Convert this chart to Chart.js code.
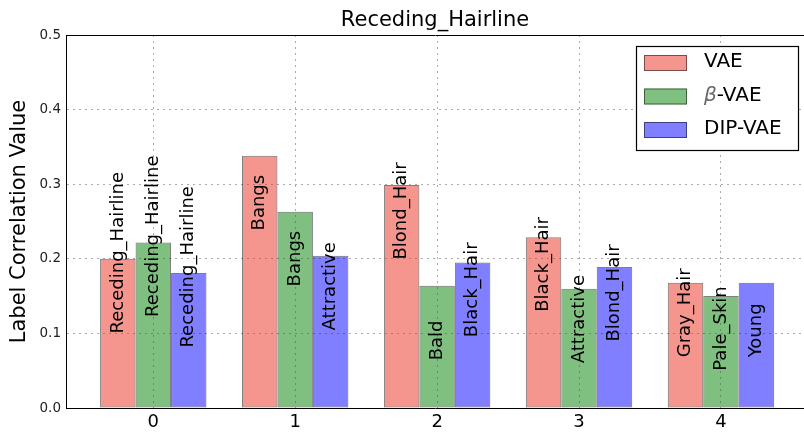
<!DOCTYPE html>
<html lang="en">
<head>
    <meta charset="UTF-8">
    <title>Receding_Hairline</title>
    <script src="https://cdn.jsdelivr.net/npm/chart.js@4.4.0/dist/chart.umd.min.js"></script>
    <style>
        html, body {
            margin: 0;
            padding: 0;
            background: #fff;
        }
        canvas {
            display: block;
        }
    </style>
</head>
<body>
    <canvas id="chart" width="804" height="435"></canvas>

    <script>
        // Attribute index groups along the x axis
        const categories = ['0', '1', '2', '3', '4'];
        const seriesNames = ['VAE', 'β-VAE', 'DIP-VAE'];

        // Correlation values per model
        const vaeValues = [0.200, 0.338, 0.299, 0.229, 0.168];
        const betaVaeValues = [0.222, 0.263, 0.164, 0.160, 0.150];
        const dipVaeValues = [0.181, 0.204, 0.195, 0.189, 0.168];

        // Attribute names written on each bar
        const vaeNames = ['Receding_Hairline', 'Bangs', 'Blond_Hair', 'Black_Hair', 'Gray_Hair'];
        const betaVaeNames = ['Receding_Hairline', 'Bangs', 'Bald', 'Attractive', 'Pale_Skin'];
        const dipVaeNames = ['Receding_Hairline', 'Attractive', 'Black_Hair', 'Blond_Hair', 'Young'];

        const yTicks = [0.0, 0.1, 0.2, 0.3, 0.4, 0.5];

        const FONT = '"DejaVu Sans", "Liberation Sans", sans-serif';
        const labelDrop = 0.1;   // names start this far below the bar top
        const gridColor = '#ababab';

        const toPoints = values => values.map((v, i) => ({ x: i, y: v }));

        // Rotated attribute names on the bars
        const barNamesPlugin = {
            id: 'barNames',
            afterDatasetsDraw(chart) {
                const ctx = chart.ctx;
                const yScale = chart.scales.y;
                const size = 18;
                ctx.save();
                ctx.font = size + 'px ' + FONT;
                ctx.fillStyle = '#000';
                ctx.textAlign = 'left';
                ctx.textBaseline = 'alphabetic';
                chart.data.datasets.forEach((ds, di) => {
                    const meta = chart.getDatasetMeta(di);
                    meta.data.forEach((bar, i) => {
                        const y = yScale.getPixelForValue(ds.data[i].y - labelDrop);
                        ctx.save();
                        ctx.translate(bar.x + 0.262 * size, y);
                        ctx.rotate(-Math.PI / 2);
                        ctx.fillText(ds.barNames[i], 0, 0);
                        ctx.restore();
                    });
                });
                ctx.restore();
            }
        };

        // Boxed legend in the upper right corner of the plot
        const boxLegendPlugin = {
            id: 'boxLegend',
            afterDraw(chart) {
                const { ctx, chartArea } = chart;
                const w = 163, h = 105;
                const left = chartArea.right - 5 - w;
                const top = chartArea.top + 11;
                ctx.save();
                ctx.fillStyle = '#fff';
                ctx.fillRect(left, top, w, h);
                ctx.strokeStyle = '#000';
                ctx.lineWidth = 1.2;
                ctx.strokeRect(left + 0.5, top + 0.5, w - 1, h - 1);

                chart.data.datasets.forEach((ds, i) => {
                    const cy = top + 17 + i * 33.5;
                    ctx.fillStyle = ds.backgroundColor;
                    ctx.fillRect(left + 8, cy - 8, 43, 16);
                    ctx.strokeStyle = ds.borderColor;
                    ctx.lineWidth = 1;
                    ctx.strokeRect(left + 8.5, cy - 7.5, 42, 15);

                    let x = left + 68;
                    let text = ds.label;
                    ctx.textAlign = 'left';
                    ctx.textBaseline = 'middle';
                    if (text.startsWith('β')) {
                        ctx.font = 'italic 20px ' + FONT;
                        ctx.fillStyle = '#666';
                        ctx.fillText('β', x, cy - 1);
                        x += ctx.measureText('β').width;
                        text = text.slice(1);
                    }
                    ctx.font = '20px ' + FONT;
                    ctx.fillStyle = '#000';
                    ctx.fillText(text, x, cy - 1);
                });
                ctx.restore();
            }
        };

        const barStyle = {
            borderColor: 'rgba(0, 0, 0, 0.5)',
            borderWidth: 1,
            borderSkipped: false,
            categoryPercentage: 0.75,
            barPercentage: 1.0,
            xAxisID: 'x',
            yAxisID: 'y'
        };

        // x range of the plot frame, in group units
        const xMin = -0.615;
        const xMax = 4.585;

        new Chart(document.getElementById('chart'), {
            type: 'bar',
            data: {
                datasets: [
                    Object.assign({
                        label: seriesNames[0],
                        data: toPoints(vaeValues),
                        barNames: vaeNames,
                        backgroundColor: 'rgba(235, 45, 30, 0.5)'
                    }, barStyle),
                    Object.assign({
                        label: seriesNames[1],
                        data: toPoints(betaVaeValues),
                        barNames: betaVaeNames,
                        backgroundColor: 'rgba(0, 128, 0, 0.5)'
                    }, barStyle),
                    Object.assign({
                        label: seriesNames[2],
                        data: toPoints(dipVaeValues),
                        barNames: dipVaeNames,
                        backgroundColor: 'rgba(0, 0, 255, 0.5)'
                    }, barStyle)
                ]
            },
            options: {
                responsive: false,
                devicePixelRatio: 1,
                animation: false,
                layout: { padding: 0 },
                plugins: {
                    legend: { display: false },
                    tooltip: { enabled: false },
                    title: { display: false }
                },
                scales: {
                    x: {
                        type: 'linear',
                        position: 'bottom',
                        min: xMin,
                        max: xMax,
                        offset: false,
                        afterBuildTicks: s => { s.ticks = categories.map((c, i) => ({ value: i })); },
                        afterFit: s => { s.height = 27; },
                        ticks: {
                            callback: v => categories[v],
                            font: { family: FONT, size: 18 },
                            color: '#000',
                            padding: 4,
                            maxRotation: 0,
                            autoSkip: false
                        },
                        grid: { offset: false, color: gridColor, lineWidth: 1, drawTicks: false },
                        border: { display: true, color: '#000', width: 1, dash: [2, 4] }
                    },
                    xTop: {
                        type: 'linear',
                        position: 'top',
                        min: xMin,
                        max: xMax,
                        offset: false,
                        afterFit: s => { s.height = 35; },
                        ticks: { display: false },
                        grid: { display: false, drawTicks: false },
                        border: { display: true, color: '#000', width: 1 },
                        title: {
                            display: true,
                            text: 'Receding_Hairline',
                            font: { family: FONT, size: 21 },
                            color: '#000',
                            padding: { top: 8.4, bottom: 0 }
                        }
                    },
                    y: {
                        min: 0,
                        max: 0.5,
                        afterBuildTicks: s => { s.ticks = yTicks.map(v => ({ value: v })); },
                        afterFit: s => { s.width = 66; },
                        ticks: {
                            callback: v => v.toFixed(1),
                            font: { family: FONT, size: 13.5 },
                            color: '#222',
                            padding: 5
                        },
                        grid: { color: gridColor, lineWidth: 1, drawTicks: false },
                        border: { display: true, color: '#000', width: 1, dash: [2, 4] },
                        title: {
                            display: true,
                            text: 'Label Correlation Value',
                            font: { family: FONT, size: 21 },
                            color: '#000',
                            padding: { top: 7, bottom: 0 }
                        }
                    }
                }
            },
            plugins: [barNamesPlugin, boxLegendPlugin]
        });
    </script>
</body>
</html>
